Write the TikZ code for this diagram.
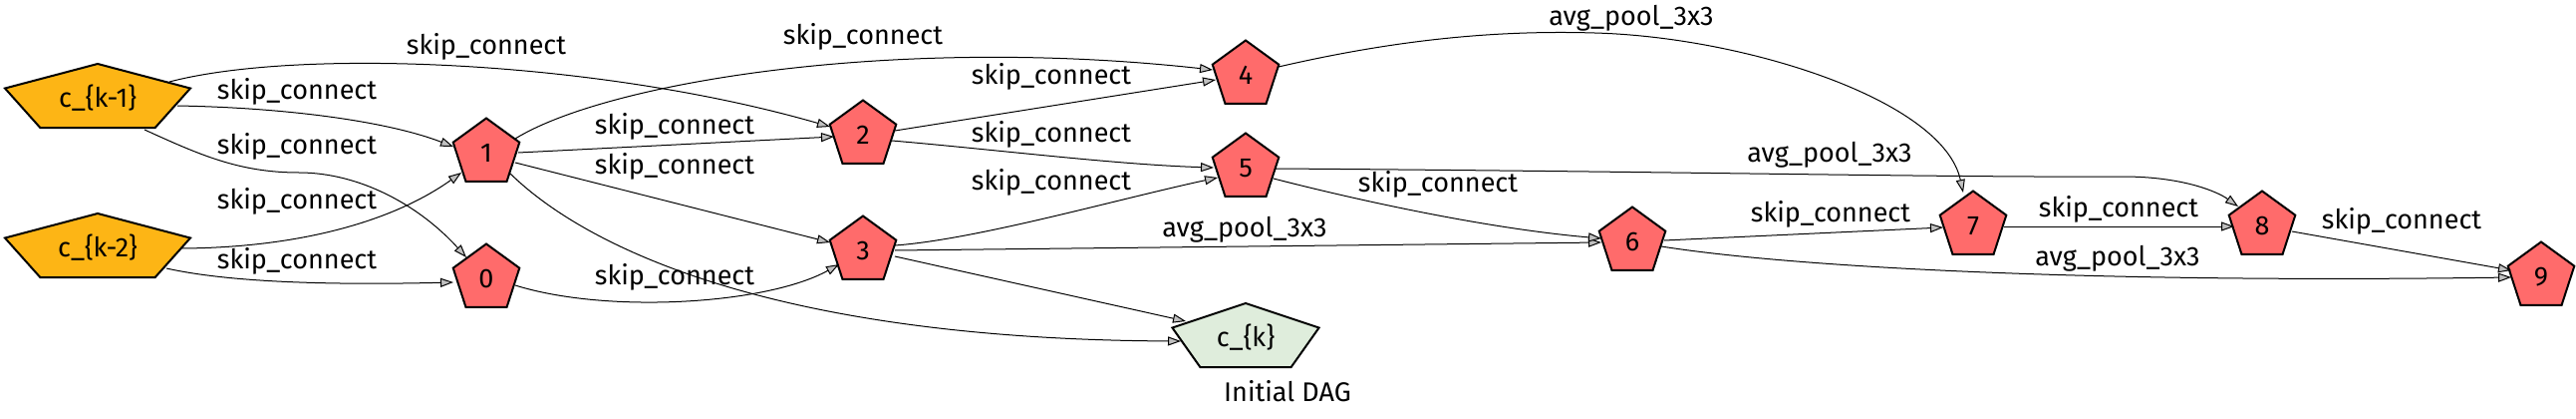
\documentclass[tikz,border=0pt]{standalone}
\usepackage{fontspec}
\setmainfont{Fira Sans}
\usetikzlibrary{shapes.geometric,arrows.meta}
\definecolor{nodered}{HTML}{FF6B6B}
\definecolor{inorange}{HTML}{FDB515}
\definecolor{outgreen}{HTML}{DFEDDC}
\definecolor{arrowgray}{HTML}{C0C0C0}
\begin{document}
\begin{tikzpicture}[x=1pt,y=-1pt,
  pent/.style={regular polygon, regular polygon sides=5, minimum size=70pt, inner sep=0pt,
    draw=black, line width=2pt, fill=nodered, font=\fontsize{27}{32}\selectfont},
  widepent/.style={regular polygon, regular polygon sides=5, minimum size=71pt, inner sep=0pt,
    draw=black, line width=2pt, transform shape},
  txt/.style={font=\fontsize{27}{32}\selectfont, inner sep=0pt},
  edge/.style={line width=1pt, draw=black, -{Triangle[length=13pt,width=9pt,fill=arrowgray]}},
]
\useasboundingbox (0,0) rectangle (2585,420);

% wide input/output nodes
\begin{scope}[shift={(98,99.5)}]
  \node[widepent, fill=inorange, xscale=2.755] (ck1) at (0,0) {};
\end{scope}
\begin{scope}[shift={(98,249.5)}]
  \node[widepent, fill=inorange, xscale=2.755] (ck2) at (0,0) {};
\end{scope}
\begin{scope}[shift={(1250,339.5)}]
  \node[widepent, fill=outgreen, xscale=2.18] (ck) at (0,0) {};
\end{scope}
\node[txt] (ck1t) at ([yshift=1.5pt]ck1.center) {c\_\{k-1\}};
\node[txt] (ck2t) at ([yshift=1.5pt]ck2.center) {c\_\{k-2\}};
\node[txt] (ckt) at ([yshift=1pt]ck.center) {c\_\{k\}};
\node[txt] (cap) at (1292,392) {Initial DAG};

% intermediate nodes
\node[pent] (n0) at (488,279.5) {0};
\node[pent] (n1) at (488,153.5) {1};
\node[pent] (n2) at (866,135.5) {2};
\node[pent] (n3) at (866,251.5) {3};
\node[pent] (n4) at (1250,75.5) {4};
\node[pent] (n5) at (1250,168.5) {5};
\node[pent] (n6) at (1638,242.5) {6};
\node[pent] (n7) at (1980,226.5) {7};
\node[pent] (n8) at (2270,226.5) {8};
\node[pent] (n9) at (2550,277.5) {9};

% edges
\draw[edge] ([shift={(72,-17.5)}]ck1.center) .. controls (300,48) and (600,60) .. ([shift={(-33,-8.5)}]n2.center);
\draw[edge] ([shift={(80,6.5)}]ck1.center) .. controls (290,108) and (390,122) .. ([shift={(-33,-6.5)}]n1.center);
\draw[edge] ([shift={(47,30.5)}]ck1.center) .. controls (200,155) and (240,173) .. (300,173)
            .. controls (360,173) and (420,205) .. ([shift={(-20,-21.5)}]n0.center);
\draw[edge] ([shift={(85,-0.5)}]ck2.center) .. controls (310,248) and (400,218) .. ([shift={(-25,19.5)}]n1.center);
\draw[edge] ([shift={(69,19.5)}]ck2.center) .. controls (230,283) and (330,286) .. ([shift={(-33,3.5)}]n0.center);
\draw[edge] ([shift={(29,-14.5)}]n1.center) .. controls (610,82) and (900,35) .. ([shift={(-33,-5.5)}]n4.center);
\draw[edge] ([shift={(32,-0.5)}]n1.center) -- ([shift={(-29,1.5)}]n2.center);
\draw[edge] ([shift={(29,9.5)}]n1.center) -- ([shift={(-33,-8.5)}]n3.center);
\draw[edge] ([shift={(24,20.5)}]n1.center) .. controls (590,250) and (780,340) .. ([shift={(-65,2.5)}]ck.center);
\draw[edge] ([shift={(29,6.5)}]n0.center) .. controls (610,315) and (770,305) .. ([shift={(-24,13.5)}]n3.center);
\draw[edge] ([shift={(32,-4.5)}]n2.center) -- ([shift={(-30,4.5)}]n4.center);
\draw[edge] ([shift={(29,5.5)}]n2.center) .. controls (1000,150) and (1120,165) .. ([shift={(-32,-0.5)}]n5.center);
\draw[edge] ([shift={(32,-5.5)}]n3.center) .. controls (980,240) and (1120,200) .. ([shift={(-28,9.5)}]n5.center);
\draw[edge] ([shift={(32,-0.5)}]n3.center) -- ([shift={(-31,0.5)}]n6.center);
\draw[edge] ([shift={(32,5.5)}]n3.center) -- ([shift={(-60,-17.5)}]ck.center);
\draw[edge] ([shift={(33,-8.5)}]n4.center) .. controls (1400,40) and (1500,30) .. (1600,33)
            .. controls (1750,37) and (1950,100) .. ([shift={(-10,-33.5)}]n7.center);
\draw[edge] ([shift={(30,0.5)}]n5.center) .. controls (1700,172) and (1950,178) .. (2130,177)
            .. controls (2190,177) and (2225,192) .. ([shift={(-24,-19.5)}]n8.center);
\draw[edge] ([shift={(28,10.5)}]n5.center) .. controls (1340,195) and (1480,228) .. ([shift={(-31,-3.5)}]n6.center);
\draw[edge] ([shift={(32,-1.5)}]n6.center) -- ([shift={(-30,1.5)}]n7.center);
\draw[edge] ([shift={(29,4.5)}]n6.center) .. controls (1800,268) and (2100,284) .. ([shift={(-30,0.5)}]n9.center);
\draw[edge] ([shift={(31,0.5)}]n7.center) -- ([shift={(-28,0.5)}]n8.center);
\draw[edge] ([shift={(30,5.5)}]n8.center) -- ([shift={(-30,-6.5)}]n9.center);

% edge labels
\node[txt] (l1) at (488,47) {skip\_connect};
\node[txt] (l2) at (298,92) {skip\_connect};
\node[txt] (l3) at (298,147) {skip\_connect};
\node[txt] (l4) at (298,202) {skip\_connect};
\node[txt] (l5) at (298,262) {skip\_connect};
\node[txt] (l6) at (866,37) {skip\_connect};
\node[txt] (l7) at (677,127) {skip\_connect};
\node[txt] (l8) at (677,167) {skip\_connect};
\node[txt] (l10) at (677,278) {skip\_connect};
\node[txt] (l11) at (1055,77) {skip\_connect};
\node[txt] (l12) at (1055,135) {skip\_connect};
\node[txt] (l13) at (1055,183) {skip\_connect};
\node[txt] (l14) at (1249,230) {avg\_pool\_3x3};
\node[txt] (l16) at (1637,18) {avg\_pool\_3x3};
\node[txt] (l17) at (1836,155) {avg\_pool\_3x3};
\node[txt] (l18) at (1443,185) {skip\_connect};
\node[txt] (l19) at (1837,215) {skip\_connect};
\node[txt] (l20) at (2125,259) {avg\_pool\_3x3};
\node[txt] (l21) at (2126,210) {skip\_connect};
\node[txt] (l22) at (2410,222) {skip\_connect};
\end{tikzpicture}
\end{document}
